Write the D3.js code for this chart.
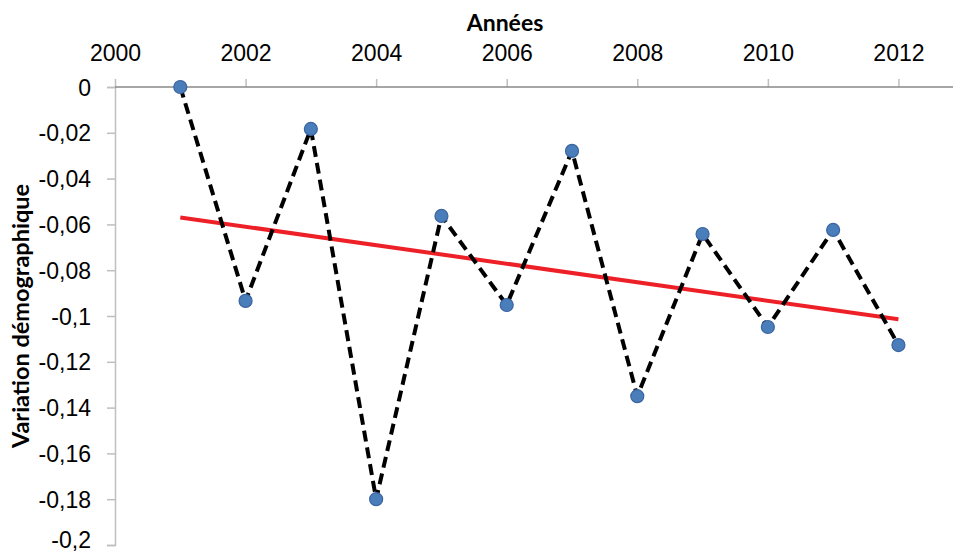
<!DOCTYPE html>
<html><head><meta charset="utf-8">
<script src="https://cdn.jsdelivr.net/npm/d3@7"></script>
<style>
html,body{margin:0;padding:0;background:#fff;}
svg{display:block;font-family:Lato,"Open Sans",sans-serif;}
</style></head>
<body>
<svg id="c" width="953" height="557"></svg>
<script>
const years = [2001,2002,2003,2004,2005,2006,2007,2008,2009,2010,2011,2012];
const variation = [0,-0.0934,-0.0183,-0.180,-0.0563,-0.0952,-0.0279,-0.135,-0.0642,-0.1048,-0.0624,-0.1127];
const xTicks = [2000,2002,2004,2006,2008,2010,2012];
const yTicks = [0,-0.02,-0.04,-0.06,-0.08,-0.1,-0.12,-0.14,-0.16,-0.18,-0.2];
const xTitle = "Années";
const yTitle = "Variation démographique";

const svg = d3.select("#c");
const W = 953;
const x = d3.scaleLinear().domain([2000,2014]).range([115,1029]);
const y = d3.scaleLinear().domain([-0.2,0]).range([545,87]);
const fmt = v => v === 0 ? "0" : String(v).replace(".", ",");

// y axis
const ya = svg.append("g").attr("transform","translate(115,0)")
  .call(d3.axisLeft(y).tickValues(yTicks).tickSize(8).tickPadding(16).tickFormat(fmt));
ya.select(".domain").attr("stroke","#bfbfbf").attr("stroke-width",1.5);
ya.selectAll(".tick line").attr("stroke","#bfbfbf").attr("stroke-width",1.5);
ya.selectAll(".tick text").attr("font-size",23).attr("fill","#000")
  .attr("dy", d => d === -0.2 ? "0.12em" : "0.35em");

// x axis (top)
const xa = svg.append("g").attr("transform","translate(0,87)")
  .call(d3.axisTop(x).tickValues(xTicks).tickSize(8).tickPadding(18).tickFormat(d3.format("d")));
xa.select(".domain").remove();
xa.append("line").attr("x1",115).attr("x2",W).attr("y1",0).attr("y2",0)
  .attr("stroke","#888").attr("stroke-width",1.5);
xa.selectAll(".tick line").attr("stroke","#bfbfbf").attr("stroke-width",1.5);
xa.selectAll(".tick text").attr("font-size",23).attr("fill","#000");

// titles
svg.append("text").attr("x",505).attr("y",31).attr("text-anchor","middle")
  .attr("font-size",23).attr("font-weight","bold").text(xTitle);
svg.append("text").attr("transform","translate(29,316) rotate(-90)").attr("text-anchor","middle")
  .attr("font-size",23.5).attr("font-weight","bold").text(yTitle);

// trend (least squares)
const n = years.length;
const mx = d3.mean(years), my = d3.mean(variation);
const slope = d3.sum(years, (v,i)=>(v-mx)*(variation[i]-my)) / d3.sum(years, v=>(v-mx)*(v-mx));
const icpt = my - slope*mx;
const ends = [years[0], years[n-1]];
svg.append("line")
  .attr("x1",x(ends[0])).attr("y1",y(icpt+slope*ends[0]))
  .attr("x2",x(ends[1])).attr("y2",y(icpt+slope*ends[1]))
  .attr("stroke","#ee2027").attr("stroke-width",4);

// dashed series line
const line = d3.line().x((d,i)=>x(years[i])).y(d=>y(d));
svg.append("path").datum(variation).attr("d",line)
  .attr("fill","none").attr("stroke","#000").attr("stroke-width",4)
  .attr("stroke-dasharray","11,6");

// markers
svg.selectAll("circle.pt").data(variation).enter().append("circle")
  .attr("class","pt").attr("cx",(d,i)=>x(years[i])).attr("cy",d=>y(d)).attr("r",6.5)
  .attr("fill","#4a7ebb").attr("stroke","#3b64a0").attr("stroke-width",1.2);
</script>
</body></html>
